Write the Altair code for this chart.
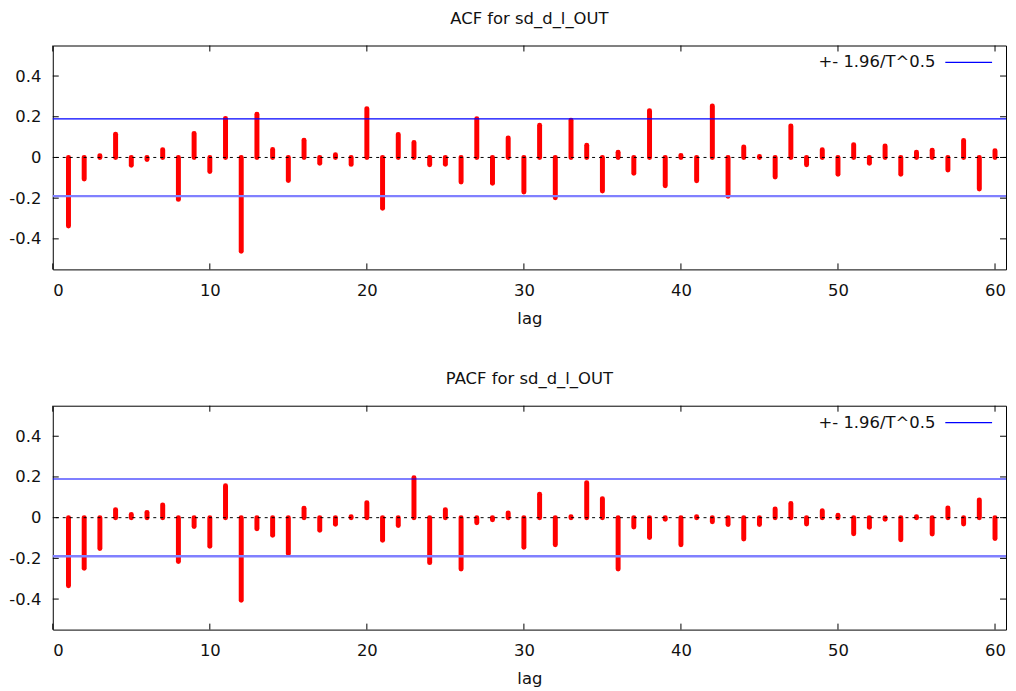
import altair as alt
import pandas as pd

lags = list(range(1, 61))
acf = [-0.337, -0.106, 0.008, 0.114, -0.038, -0.010, 0.038, -0.206, 0.118, -0.069,
       0.191, -0.461, 0.212, 0.039, -0.113, 0.085, -0.029, 0.013, -0.034, 0.239,
       -0.250, 0.113, 0.074, -0.036, -0.033, -0.121, 0.190, -0.127, 0.096, -0.170,
       0.158, -0.198, 0.183, 0.060, -0.165, 0.026, -0.078, 0.230, -0.139, 0.010,
       -0.114, 0.253, -0.191, 0.051, 0.005, -0.096, 0.155, -0.036, 0.038, -0.082,
       0.062, -0.028, 0.056, -0.083, 0.026, 0.036, -0.062, 0.083, -0.155, 0.033]
pacf = [-0.335, -0.249, -0.151, 0.039, 0.016, 0.026, 0.062, -0.216, -0.044, -0.141,
        0.157, -0.406, -0.054, -0.087, -0.177, 0.046, -0.062, -0.033, 0.005, 0.073,
        -0.111, -0.039, 0.196, -0.221, 0.039, -0.252, -0.025, -0.010, 0.023, -0.146,
        0.115, -0.133, 0.005, 0.172, 0.093, -0.252, -0.046, -0.098, -0.008, -0.133,
        0.005, -0.020, -0.034, -0.105, -0.034, 0.043, 0.070, -0.031, 0.034, 0.012,
        -0.079, -0.047, -0.008, -0.108, 0.005, -0.080, 0.047, -0.031, 0.087, -0.103]
bound = 0.19
y_ticks = [-0.4, -0.2, 0, 0.2, 0.4]
x_ticks = [0, 10, 20, 30, 40, 50, 60]
titles = ["ACF for sd_d_l_OUT", "PACF for sd_d_l_OUT"]
legend_label = "+- 1.96/T^0.5"
x_title = "lag"

W = 958
H = 225
FONT = "DejaVu Sans"
FS = 16.5
TXT = "#111111"

xs = alt.Scale(domain=[0, 60.7], nice=False, zero=False)
ys = alt.Scale(domain=[-0.55, 0.55], nice=False, zero=False)
xa = alt.Axis(values=x_ticks, ticks=False, tickSize=0, domain=False, grid=False,
              labelPadding=13, title=x_title, titlePadding=12,
              labelFont=FONT, labelFontSize=FS, labelColor=TXT,
              titleFont=FONT, titleFontSize=FS, titleColor=TXT, titleFontWeight="normal")
ya = alt.Axis(values=y_ticks, ticks=False, tickSize=0, domain=False, grid=False,
              labelPadding=12, title=None, labelExpr="'' + datum.value",
              labelFont=FONT, labelFontSize=FS, labelColor=TXT)


def panel(values, title):
    df = pd.DataFrame({"lag": lags, "value": values, "zero": [0] * len(lags)})
    bars = alt.Chart(df).mark_rule(color="#ff0000", strokeWidth=5, strokeCap="round").encode(
        x=alt.X("lag:Q", scale=xs, axis=xa),
        y=alt.Y("value:Q", scale=ys, axis=ya),
        y2="zero:Q",
    )
    zero_line = alt.Chart(pd.DataFrame({"v": [0]})).mark_rule(
        color="black", strokeDash=[3, 4], strokeWidth=1).encode(
        y=alt.Y("v:Q", scale=ys, axis=ya))
    up = alt.Chart(pd.DataFrame({"v": [bound]})).mark_rule(color="#0000ff", strokeWidth=1.2).encode(
        y=alt.Y("v:Q", scale=ys, axis=ya))
    lo = alt.Chart(pd.DataFrame({"v": [-bound]})).mark_rule(color="#8080ff", strokeWidth=2.5).encode(
        y=alt.Y("v:Q", scale=ys, axis=ya))
    ydf = pd.DataFrame({"v": y_ticks})
    xdf = pd.DataFrame({"v": x_ticks})
    tl = alt.Chart(ydf).mark_rule(color="black", strokeWidth=1).encode(
        y=alt.Y("v:Q", scale=ys, axis=ya), x=alt.value(0), x2=alt.value(6))
    tr = alt.Chart(ydf).mark_rule(color="black", strokeWidth=1).encode(
        y=alt.Y("v:Q", scale=ys, axis=ya), x=alt.value(W - 6), x2=alt.value(W))
    tb = alt.Chart(xdf).mark_rule(color="black", strokeWidth=1).encode(
        x=alt.X("v:Q", scale=xs, axis=xa), y=alt.value(H - 6), y2=alt.value(H))
    tt = alt.Chart(xdf).mark_rule(color="black", strokeWidth=1).encode(
        x=alt.X("v:Q", scale=xs, axis=xa), y=alt.value(0), y2=alt.value(6))
    ldf = pd.DataFrame({"label": [legend_label]})
    ltext = alt.Chart(ldf).mark_text(align="right", baseline="middle", font=FONT,
                                      fontSize=FS, color=TXT).encode(
        text="label:N", x=alt.value(887), y=alt.value(17))
    lline = alt.Chart(ldf).mark_rule(color="#0000ff", strokeWidth=1.2).encode(
        x=alt.value(897), x2=alt.value(944), y=alt.value(17))
    return alt.layer(bars, zero_line, up, lo, tl, tr, tb, tt, ltext, lline).properties(
        width=W, height=H,
        title=alt.TitleParams(title, font=FONT, fontSize=FS, fontWeight="normal",
                              color=TXT, anchor="middle", offset=18),
    )


chart = alt.vconcat(panel(acf, titles[0]), panel(pacf, titles[1]), spacing=42).configure(
    background="white", padding=0
).configure_view(stroke="black", strokeWidth=1)

chart.save("out.html", embed_options={"renderer": "svg", "actions": False})
